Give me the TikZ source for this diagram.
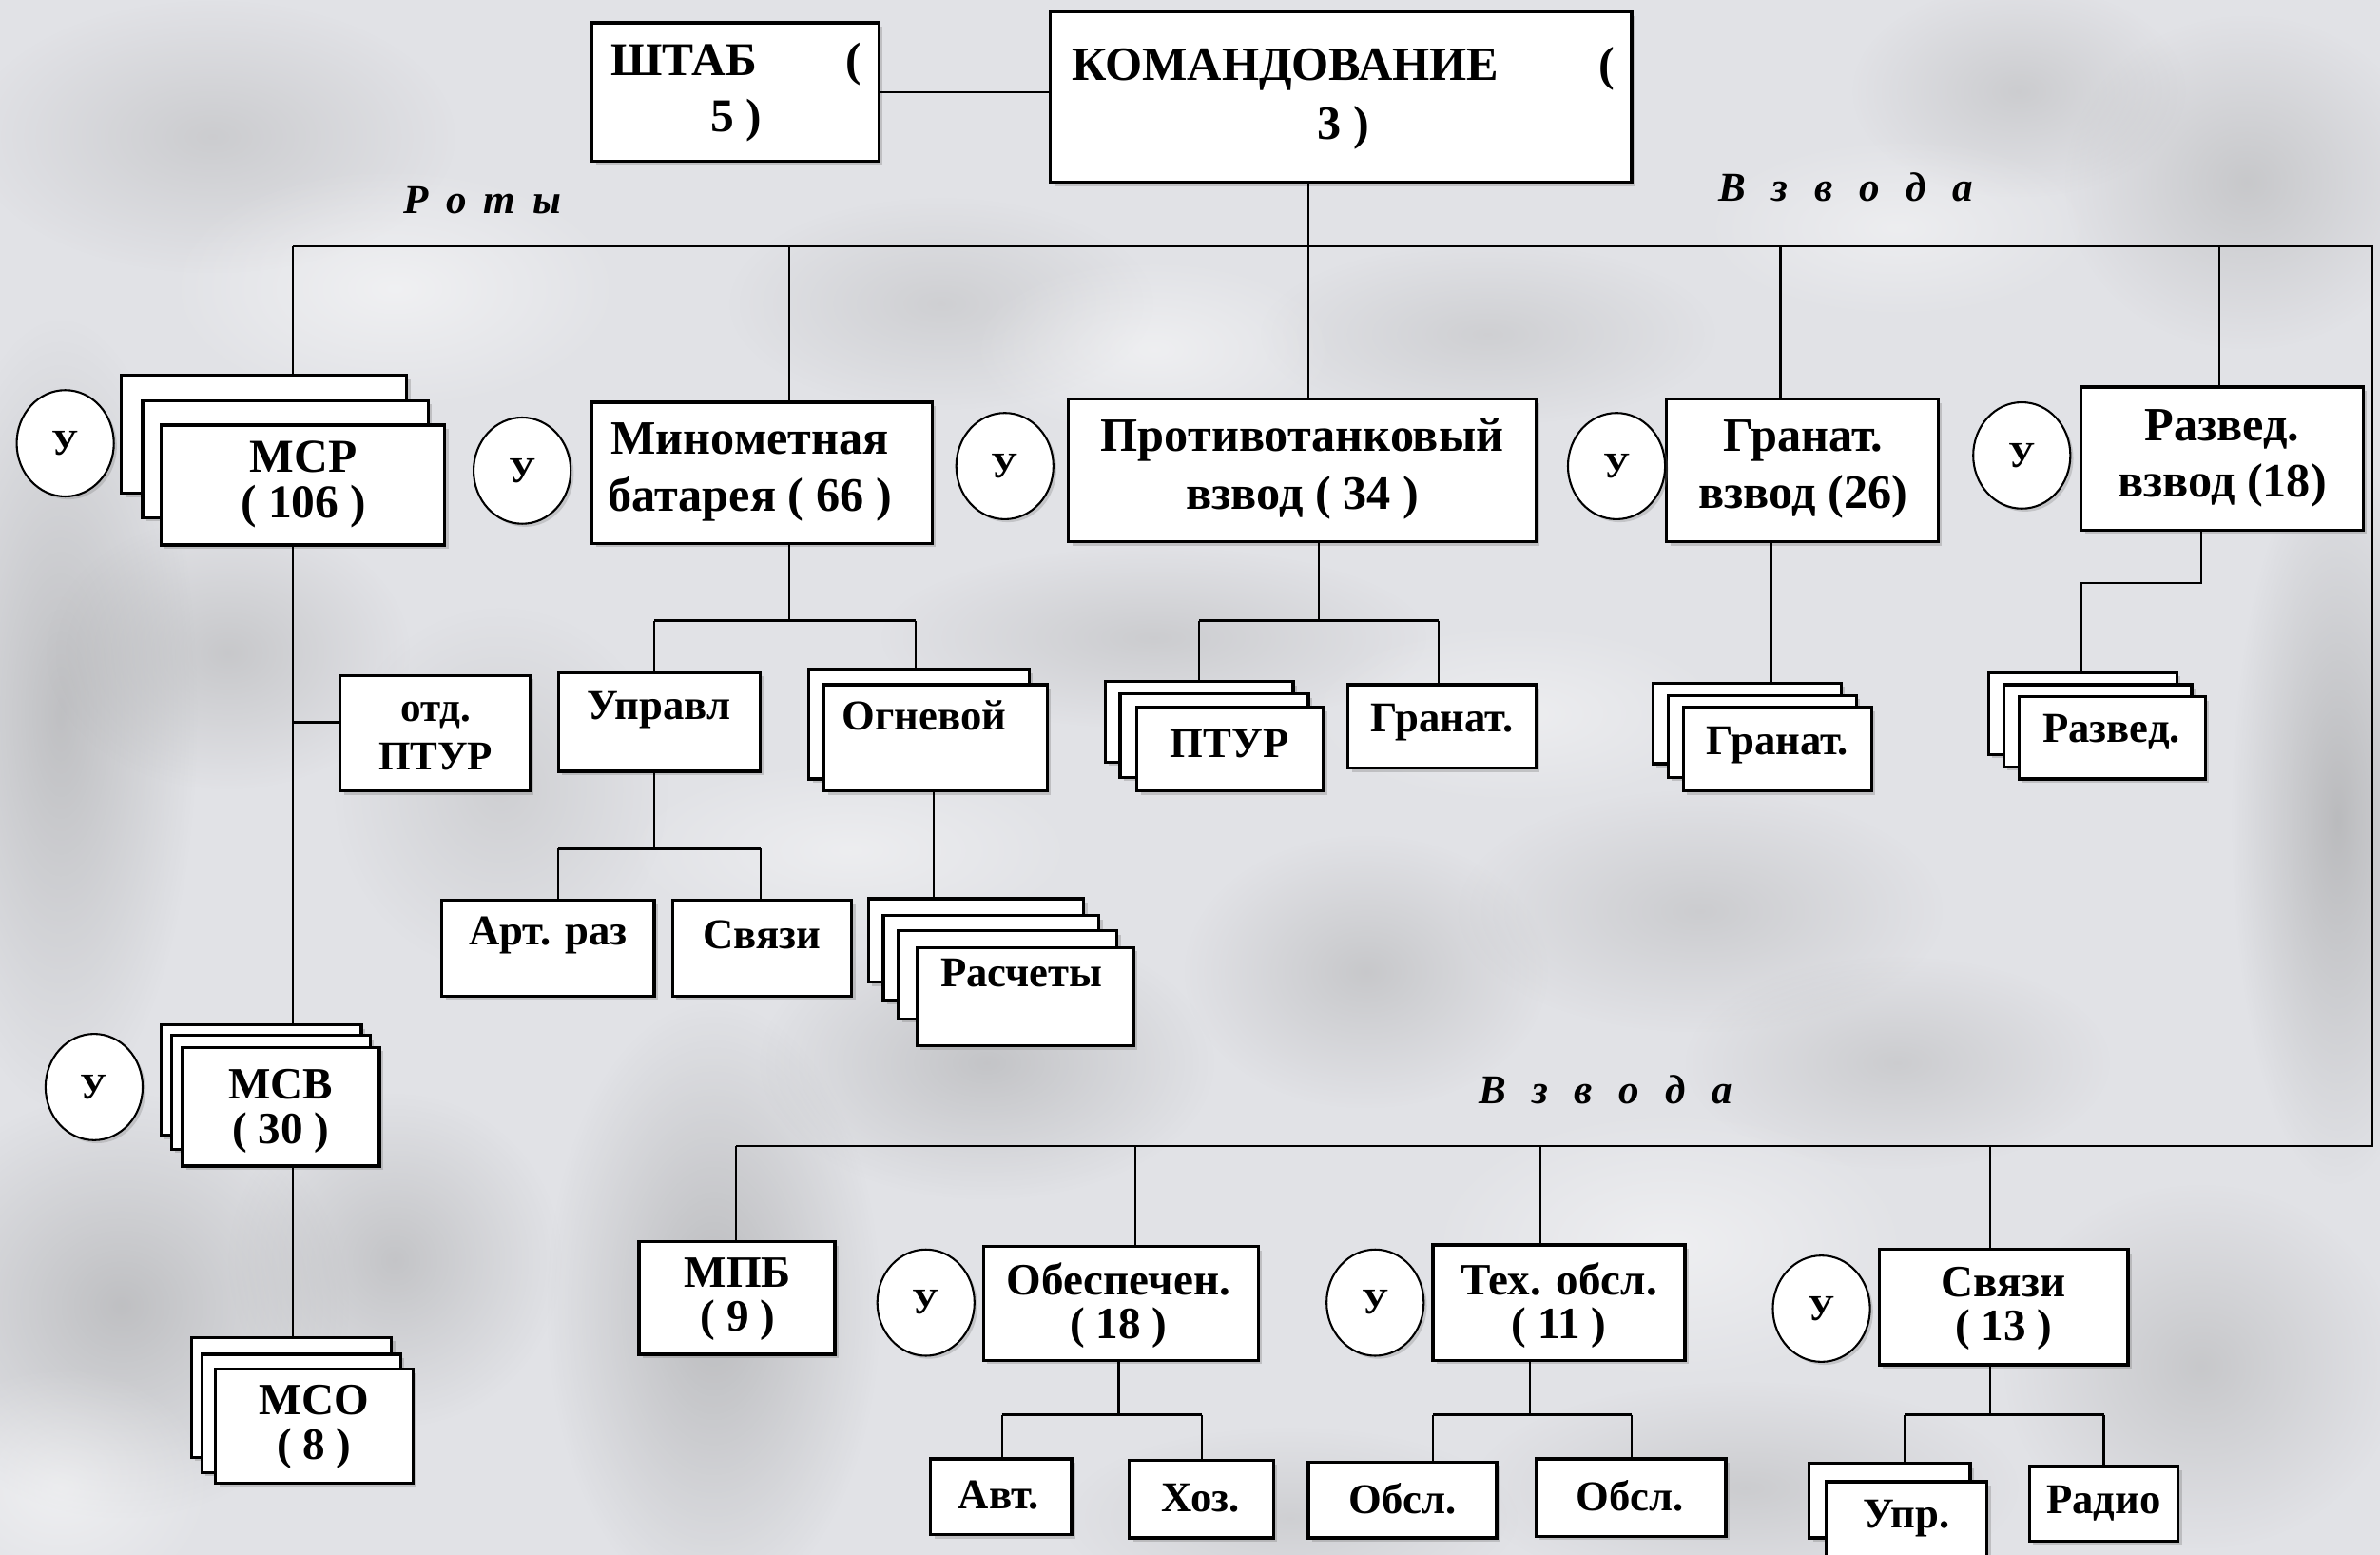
\documentclass[tikz,border=0pt]{standalone}
\usepackage{fontspec}
\setmainfont{Liberation Serif}
\usetikzlibrary{fit,shapes.geometric,shadows,fadings}
\tikzfading[name=fuzzy, inner color=transparent!0, outer color=transparent!100]
\definecolor{bgc}{RGB}{225,226,230}
\newcommand\obox[5]{\node[box, fit={(#2,#3)(#4,#5)}] (#1) {};}
\newcommand\lsp{\hspace{0.42em}}
\newcommand\wsp{\hspace{0.64em}}
\begin{document}
\begin{tikzpicture}[x=1pt,y=-1pt,
  box/.style={draw=black, line width=2pt, fill=white, inner sep=0pt,
    drop shadow={shadow xshift=2.5pt, shadow yshift=-2.5pt, opacity=0.35}},
  uu/.style={ellipse, draw=black, line width=1.3pt, fill=white, minimum width=64pt,
    minimum height=70pt, inner sep=0pt, font=\bfseries\fontsize{24}{26}\selectfont,
    drop shadow={shadow xshift=2pt, shadow yshift=-2pt, opacity=0.3}},
  big/.style={font=\bfseries\fontsize{31.5}{38}\selectfont, align=center, inner sep=0pt},
  mid/.style={font=\bfseries\fontsize{29.5}{29}\selectfont, align=center, inner sep=0pt},
  sml/.style={font=\bfseries\fontsize{28}{30}\selectfont, align=center, inner sep=0pt},
  ital/.style={font=\bfseries\itshape\fontsize{27}{30}\selectfont, inner sep=0pt},
  ln/.style={line width=1.3pt},
  lnb/.style={line width=2pt},
  blob/.style={path fading=fuzzy, fill opacity=#1},
]
\useasboundingbox (0,0) rectangle (1568,1024);
% ---------- background ----------
\fill[bgc] (0,0) rectangle (1568,1024);
\begin{scope}
\fill[black!50, blob=0.35] (40,470) ellipse [x radius=90, y radius=260];
\fill[black!45, blob=0.30] (150,430) ellipse [x radius=120, y radius=90];
\fill[black!50, blob=0.35] (80,860) ellipse [x radius=150, y radius=140];
\fill[black!50, blob=0.30] (260,830) ellipse [x radius=110, y radius=110];
\fill[black!55, blob=0.35] (470,860) ellipse [x radius=110, y radius=200];
\fill[black!50, blob=0.30] (650,700) ellipse [x radius=150, y radius=90];
\fill[black!45, blob=0.30] (900,640) ellipse [x radius=120, y radius=90];
\fill[black!45, blob=0.25] (1120,600) ellipse [x radius=160, y radius=80];
\fill[black!45, blob=0.25] (1250,700) ellipse [x radius=140, y radius=70];
\fill[black!50, blob=0.40] (1540,540) ellipse [x radius=70, y radius=240];
\fill[black!45, blob=0.30] (1480,120) ellipse [x radius=120, y radius=110];
\fill[black!45, blob=0.25] (1330,60) ellipse [x radius=110, y radius=70];
\fill[black!45, blob=0.25] (140,90) ellipse [x radius=160, y radius=90];
\fill[black!40, blob=0.25] (620,200) ellipse [x radius=140, y radius=70];
\fill[black!40, blob=0.25] (980,220) ellipse [x radius=150, y radius=60];
\fill[black!45, blob=0.25] (760,420) ellipse [x radius=180, y radius=60];
\fill[black!45, blob=0.30] (1450,900) ellipse [x radius=130, y radius=120];
\fill[black!45, blob=0.25] (1150,980) ellipse [x radius=180, y radius=70];
\fill[black!40, blob=0.25] (850,1000) ellipse [x radius=150, y radius=60];
\fill[black!40, blob=0.25] (330,520) ellipse [x radius=110, y radius=120];
\fill[white, blob=0.50] (260,190) ellipse [x radius=150, y radius=80];
\fill[white, blob=0.45] (760,230) ellipse [x radius=120, y radius=60];
\fill[white, blob=0.45] (1100,820) ellipse [x radius=160, y radius=90];
\fill[white, blob=0.45] (40,980) ellipse [x radius=100, y radius=80];
\fill[white, blob=0.40] (1000,470) ellipse [x radius=140, y radius=60];
\fill[white, blob=0.40] (1250,150) ellipse [x radius=130, y radius=60];
\fill[white, blob=0.40] (560,560) ellipse [x radius=150, y radius=60];
\end{scope}
% ---------- junction coordinates ----------
\coordinate (bT1) at (193,162);
\coordinate (bT2) at (520,162);
\coordinate (bT3) at (862,162);
\coordinate (bT4) at (1173,162);
\coordinate (bT5) at (1462,162);
\coordinate (bTR) at (1563,162);
\coordinate (bBR) at (1563,755);
\coordinate (bB1) at (485,755);
\coordinate (bB2) at (748,755);
\coordinate (bB3) at (1015,755);
\coordinate (bB4) at (1311,755);
\coordinate (jOtd) at (193,476);
\coordinate (jM) at (520,409);
\coordinate (jMl) at (431,409);
\coordinate (jMr) at (603,409);
\coordinate (jU) at (431,559);
\coordinate (jUl) at (368,559);
\coordinate (jUr) at (501,559);
\coordinate (jOg) at (615,560);
\coordinate (jP) at (869,409);
\coordinate (jPl) at (790,409);
\coordinate (jPr) at (948,409);
\coordinate (jG) at (1167,420);
\coordinate (jR) at (1450,384);
\coordinate (jRl) at (1371,384);
\coordinate (jO) at (737,932);
\coordinate (jOl) at (660,932);
\coordinate (jOr) at (792,932);
\coordinate (jT) at (1008,932);
\coordinate (jTl) at (944,932);
\coordinate (jTr) at (1075,932);
\coordinate (jS) at (1311,932);
\coordinate (jSl) at (1255,932);
\coordinate (jSr) at (1386,932);
% ---------- boxes ----------
\obox{shtab}{390}{15}{579}{106}
\obox{kom}{692}{8}{1075}{120}
\obox{msrA}{80}{247}{268}{325}
\obox{msrB}{94}{264}{282}{341}
\obox{msrC}{106}{280}{293}{359}
\obox{min}{390}{265}{614}{358}
\obox{ptv}{704}{263}{1012}{357}
\obox{gv}{1098}{263}{1277}{357}
\obox{rv}{1371}{255}{1557}{349}
\obox{otd}{224}{445}{349}{521}
\obox{upr}{368}{443}{501}{508}
\obox{ogA}{533}{441}{678}{513}
\obox{ogB}{543}{451}{690}{521}
\obox{art}{291}{593}{431}{656}
\obox{svA}{443}{593}{561}{656}
\obox{rasA}{572}{592}{714}{647}
\obox{rasB}{582}{603}{724}{659}
\obox{rasC}{592}{613}{736}{671}
\obox{rasD}{604}{624}{747}{689}
\obox{pturA}{728}{449}{852}{502}
\obox{pturB}{738}{457}{862}{512}
\obox{pturC}{749}{466}{872}{521}
\obox{grP}{888}{451}{1012}{506}
\obox{grA}{1089}{450}{1213}{503}
\obox{grB}{1099}{458}{1223}{512}
\obox{grC}{1109}{466}{1233}{521}
\obox{rzA}{1310}{443}{1434}{497}
\obox{rzB}{1320}{451}{1444}{505}
\obox{rzC}{1330}{459}{1453}{513}
\obox{msvA}{106}{675}{238}{748}
\obox{msvB}{113}{682}{244}{757}
\obox{msvC}{120}{690}{250}{768}
\obox{msoA}{126}{881}{258}{960}
\obox{msoB}{133}{892}{264}{970}
\obox{msoC}{142}{902}{272}{977}
\obox{mpb}{421}{818}{550}{892}
\obox{obs}{648}{821}{829}{896}
\obox{teh}{944}{820}{1110}{896}
\obox{svz}{1238}{823}{1402}{899}
\obox{avt}{613}{961}{706}{1011}
\obox{hoz}{744}{962}{839}{1013}
\obox{obA}{862}{963}{986}{1013}
\obox{obB}{1012}{961}{1137}{1012}
\obox{upA}{1192}{964}{1298}{1013}
\obox{upB}{1203}{976}{1309}{1030}
\obox{rad}{1337}{966}{1435}{1015}
% ---------- circles ----------
\node[uu] (u1) at (43,292) {У};
\node[uu] (u2) at (344,310) {У};
\node[uu] (u3) at (662,307) {У};
\node[uu] (u4) at (1065,307) {У};
\node[uu] (u5) at (1332,300) {У};
\node[uu] (u6) at (62,716) {У};
\node[uu] (u7) at (610,858) {У};
\node[uu] (u8) at (906,858) {У};
\node[uu] (u9) at (1200,862) {У};
% ---------- connectors ----------
\draw[ln] (shtab.east) -- (shtab.east -| kom.west);
\draw[ln] (kom.south -| bT3) -- (bT3 |- ptv.north);
\draw[ln] (bT1) -- (bTR) -- (bBR) -- (bB1);
\draw[ln] (bT1) -- (bT1 |- msrA.north);
\draw[ln] (bT2) -- (bT2 |- min.north);
\draw[ln] (bT4) -- (bT4 |- gv.north);
\draw[ln] (bT5) -- (bT5 |- rv.north);
\draw[ln] (bB1) -- (bB1 |- mpb.north);
\draw[ln] (bB2) -- (bB2 |- obs.north);
\draw[ln] (bB3) -- (bB3 |- teh.north);
\draw[ln] (bB4) -- (bB4 |- svz.north);
\draw[ln] (msrC.south -| bT1) -- (bT1 |- msvA.north);
\draw[lnb] (jOtd) -- (jOtd -| otd.west);
\draw[ln] (msvC.south -| bT1) -- (bT1 |- msoA.north);
\draw[ln] (min.south -| jM) -- (jM);
\draw[lnb] (jMl) -- (jMr);
\draw[ln] (jMl) -- (jMl |- upr.north);
\draw[ln] (jMr) -- (jMr |- ogA.north);
\draw[ln] (upr.south -| jU) -- (jU);
\draw[lnb] (jUl) -- (jUr);
\draw[ln] (jUl) -- (jUl |- art.north);
\draw[ln] (jUr) -- (jUr |- svA.north);
\draw[ln] (ogB.south -| jOg) -- (jOg |- rasA.north);
\draw[ln] (ptv.south -| jP) -- (jP);
\draw[lnb] (jPl) -- (jPr);
\draw[ln] (jPl) -- (jPl |- pturA.north);
\draw[ln] (jPr) -- (jPr |- grP.north);
\draw[ln] (gv.south -| jG) -- (jG |- grA.north);
\draw[ln] (rv.south -| jR) -- (jR) -- (jRl) -- (jRl |- rzA.north);
\draw[ln] (obs.south -| jO) -- (jO);
\draw[lnb] (jOl) -- (jOr);
\draw[ln] (jOl) -- (jOl |- avt.north);
\draw[ln] (jOr) -- (jOr |- hoz.north);
\draw[ln] (teh.south -| jT) -- (jT);
\draw[lnb] (jTl) -- (jTr);
\draw[ln] (jTl) -- (jTl |- obA.north);
\draw[ln] (jTr) -- (jTr |- obB.north);
\draw[ln] (svz.south -| jS) -- (jS);
\draw[lnb] (jSl) -- (jSr);
\draw[ln] (jSl) -- (jSl |- upA.north);
\draw[ln] (jSr) -- (jSr |- rad.north);
% ---------- texts ----------
\node[big, font=\bfseries\fontsize{31}{37}\selectfont] (tShtab) at (485,61) {\hbox to 165pt{ШТАБ\hfill(}\\5 )};
\node[big, font=\bfseries\fontsize{31.5}{39}\selectfont] (tKom) at (885,65) {\hbox to 358pt{КОМАНДОВАНИЕ\hfill(}\\3 )};
\node[ital] (tRoty) at (318,132) {Р\lsp о\lsp т\lsp ы};
\node[ital] (tVz1) at (1216,123) {В\wsp з\wsp в\wsp о\wsp д\wsp а};
\node[ital] (tVz2) at (1058,718) {В\wsp з\wsp в\wsp о\wsp д\wsp а};
\node[big, font=\bfseries\fontsize{31}{30}\selectfont] (tMsr) at (200,319) {МСР\\( 106 )};
\node[big] (tMin) at (494,311) {Минометная\\батарея ( 66 )};
\node[big] (tPtv) at (858,309) {Противотанковый\\взвод ( 34 )};
\node[big] (tGv) at (1188,309) {Гранат.\\взвод (26)};
\node[big, font=\bfseries\fontsize{31.5}{37}\selectfont] (tRv) at (1464,302) {Развед.\\взвод (18)};
\node[sml, font=\bfseries\fontsize{27}{32}\selectfont] (tOtd) at (287,485) {отд.\\ПТУР};
\node[sml] (tUpr) at (434,468) {Управл};
\node[sml] (tOg) at (609,471) {Огневой};
\node[sml] (tArt) at (361,616) {Арт. раз};
\node[sml] (tSv) at (502,616) {Связи};
\node[sml] (tRas) at (673,641) {Расчеты};
\node[sml] (tPtur) at (810,490) {ПТУР};
\node[sml] (tGr1) at (950,476) {Гранат.};
\node[sml] (tGr2) at (1171,491) {Гранат.};
\node[sml] (tRz) at (1391,482) {Развед.};
\node[mid] (tMsv) at (185,732) {МСВ\\( 30 )};
\node[mid] (tMso) at (207,940) {МСО\\( 8 )};
\node[mid] (tMpb) at (486,856) {МПБ\\( 9 )};
\node[mid] (tObs) at (737,860) {Обеспечен.\\( 18 )};
\node[mid] (tTeh) at (1027,860) {Тех. обсл.\\( 11 )};
\node[mid] (tSvz) at (1320,862) {Связи\\( 13 )};
\node[sml] (tAvt) at (658,985) {Авт.};
\node[sml] (tHoz) at (791,987) {Хоз.};
\node[sml] (tOb1) at (924,987) {Обсл.};
\node[sml] (tOb2) at (1074,985) {Обсл.};
\node[sml] (tUp) at (1256,1000) {Упр.};
\node[sml] (tRad) at (1386,990) {Радио};
\end{tikzpicture}
\end{document}
